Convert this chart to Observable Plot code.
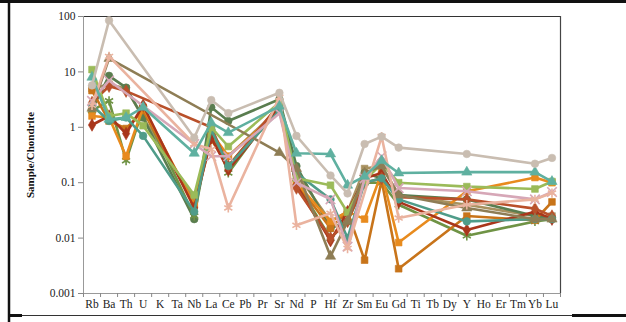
<!DOCTYPE html>
<html><head><meta charset="utf-8">
<script src="https://cdn.jsdelivr.net/npm/d3@7"></script>
<script src="https://cdn.jsdelivr.net/npm/@observablehq/plot@0.6"></script>
<style>
html,body{margin:0;padding:0;background:#fff;overflow:hidden;width:626px;height:322px;}
#wrap{position:relative;width:626px;height:322px;overflow:hidden;background:#fff;}
#wrap svg{position:absolute;left:0;top:0;}
#wrap svg text{font-family:"Liberation Serif","Times New Roman",serif;}
</style></head><body>
<div id="wrap">
<svg id="frame" width="626" height="322" viewBox="0 0 626 322" style="pointer-events:none">
  <line x1="0" y1="1.5" x2="626" y2="1.5" stroke="#111" stroke-width="3"/>
  <line x1="9" y1="0" x2="9" y2="322" stroke="#111" stroke-width="2.5"/>
  <line x1="8" y1="315.5" x2="22" y2="315.5" stroke="#111" stroke-width="3"/>
  <line x1="22" y1="315.5" x2="572" y2="315.5" stroke="#333" stroke-width="1"/>
  <line x1="572" y1="315.5" x2="626" y2="315.5" stroke="#111" stroke-width="3"/>
</svg>
</div>
<script>
const categories = ["Rb","Ba","Th","U","K","Ta","Nb","La","Ce","Pb","Pr","Sr","Nd","P","Hf","Zr","Sm","Eu","Gd","Ti","Tb","Dy","Y","Ho","Er","Tm","Yb","Lu"];
const elements = ["Rb","Ba","Th","U","Nb","La","Ce","Sr","Nd","Hf","Zr","Sm","Eu","Gd","Y","Yb","Lu"];
const yTicks = [0.001, 0.01, 0.1, 1, 10, 100];
const yTickLabels = ["0.001", "0.01", "0.1", "1", "10", "100"];
const yTitle = "Sample/Chondrite";

const sKhaki    = [5.0, 6.0, 5.0, 1.5, 0.05, 0.6, 0.3, 2.2, 0.15, 0.02, 0.03, 0.18, 0.2, 0.06, 0.04, 0.025, 0.025];
const sGreenDot = [2.1, 8.5, 5.2, 1.5, 0.022, 2.3, 1.3, 3.2, 0.2, 0.015, 0.02, 0.15, 0.12, 0.06, 0.05, 0.025, 0.022];
const sGreenAst = [2.0, 3.0, 0.25, 2.2, 0.025, 1.0, 0.15, 2.7, 0.1, 0.01, 0.02, 0.1, 0.1, 0.04, 0.011, 0.02, 0.022];
const sDarkOrg  = [4.6, 1.3, 0.95, 2.0, 0.04, 0.6, 0.2, 2.5, 0.1, 0.015, 0.03, 0.004, 0.11, 0.0028, 0.025, 0.021, 0.045];
const sOrange   = [1.6, 1.5, 0.3, 2.3, 0.04, 0.8, 0.3, 2.0, 0.1, 0.02, 0.03, 0.022, 0.15, 0.0083, 0.07, 0.124, 0.1];
const sDarkRed  = [1.1, 1.6, 0.77, 2.5, 0.035, 0.65, 0.17, 2.3, 0.09, 0.009, 0.03, 0.12, 0.15, 0.045, 0.014, 0.03, 0.022];
const sBrick    = [2.8, 5.5, 4.5, null, null, 1.0, 0.2, 2.6, 0.08, 0.01, 0.02, 0.1, 0.12, 0.055, 0.05, 0.034, 0.025];
const sTealDot  = [2.5, 1.3, 1.5, 0.7, 0.03, 0.9, 0.2, 2.0, 0.15, 0.05, 0.01, 0.1, 0.12, 0.05, 0.02, 0.022, 0.022];
const sLime     = [11, 1.6, 1.8, 1.07, 0.06, 1.0, 0.45, 2.8, 0.12, 0.09, 0.029, 0.11, 0.22, 0.1, 0.085, 0.077, 0.105];
const sOlive    = [2.2, 17.5, null, null, null, null, null, 0.35, 0.18, 0.0047, 0.02, 0.15, 0.2, 0.06, 0.035, 0.022, 0.022];
const sLavender = [3.0, 7.0, null, null, 0.5, 0.3, 0.3, 1.8, 0.1, 0.05, 0.007, 0.12, 0.3, 0.08, 0.07, 0.05, 0.068];
const sSalmon   = [2.5, 19, null, null, 0.5, 0.4, 0.035, 3.5, 0.017, 0.028, 0.0065, null, 0.68, 0.023, 0.04, 0.05, 0.065];
const sTeal     = [8.0, 1.4, 1.5, 2.3, 0.34, 1.2, 0.8, 2.4, 0.34, 0.33, 0.09, 0.13, 0.25, 0.15, 0.155, 0.155, 0.105];
const sBeige    = [5.7, 85, null, null, 0.65, 3.1, 1.8, 4.2, 0.7, 0.135, 0.064, 0.5, 0.68, 0.43, 0.33, 0.22, 0.28];

const seriesNames = ["S1","S2","S3","S4","S5","S6","S7","S8","S9","S10","S11","S12","S13","S14"];
const seriesValues = [sKhaki, sGreenDot, sGreenAst, sDarkOrg, sOrange, sDarkRed, sBrick, sTealDot, sLime, sOlive, sLavender, sSalmon, sTeal, sBeige];
const seriesColors = ["#a8915f","#5a7d4f","#6f9345","#c8741a","#e88b1e","#a9361b","#b9502a","#4f9c89","#9bbb59","#8e7d55","#d6a7b7","#eab39f","#5fb0a0","#c9bdb1"];
const seriesSymbols = ["square","circle","asterisk","square","square","diamond","diamond","circle","square","triangle","times","asterisk","triangle","circle"];

const rows = [];
seriesValues.forEach((vals, i) => {
  vals.forEach((v, j) => {
    if (v != null) rows.push({series: seriesNames[i], idx: categories.indexOf(elements[j]), value: v});
  });
});

const boundaries = d3.range(categories.length + 1).map(i => i - 0.5);

const seriesMarks = seriesNames.flatMap((name, i) => {
  const data = rows.filter(r => r.series === name);
  const sym = seriesSymbols[i];
  const strokeOnly = sym === "asterisk" || sym === "times";
  return [
    Plot.line(data, {x: "idx", y: "value", stroke: seriesColors[i], strokeWidth: 2.6, strokeLinejoin: "round"}),
    Plot.dot(data, {x: "idx", y: "value", symbol: () => sym, r: strokeOnly ? 4.4 : 3.8,
      fill: strokeOnly ? "none" : seriesColors[i], stroke: seriesColors[i], strokeWidth: strokeOnly ? 1.6 : 0.6})
  ];
});

const chart = Plot.plot({
  width: 626, height: 322,
  marginLeft: 83, marginRight: 66, marginTop: 16, marginBottom: 29,
  style: {fontFamily: "'Liberation Serif', 'Times New Roman', serif", fontSize: "11.5px", color: "#222", background: "transparent", overflow: "hidden"},
  x: {type: "linear", domain: [-0.5, categories.length - 0.5]},
  y: {type: "log", domain: [0.001, 100]},
  symbol: {type: "identity"},
  marks: [
    Plot.ruleY([100], {stroke: "#333", strokeWidth: 1.2}),
    Plot.ruleX([categories.length - 0.5], {stroke: "#444", strokeWidth: 1.2}),
    Plot.ruleX([-0.5], {stroke: "#999"}),
    Plot.ruleY([0.001], {stroke: "#999"}),
    Plot.axisY({ticks: yTicks, tickFormat: d => yTickLabels[yTicks.indexOf(d)], tickSize: 5, tickPadding: 3, label: null, stroke: "#888"}),
    Plot.axisX({ticks: boundaries, tickSize: 4, tickFormat: () => "", label: null, stroke: "#888"}),
    Plot.axisX({ticks: d3.range(categories.length), tickSize: 0, tickPadding: 6, tickFormat: i => categories[i], label: null}),
    ...seriesMarks,
    Plot.text([yTitle], {frameAnchor: "left", textAnchor: "middle", dx: -53, rotate: -90, fontWeight: "bold", fontSize: 11, fill: "#111"})
  ]
});
document.getElementById("wrap").prepend(chart);
</script>
</body></html>
